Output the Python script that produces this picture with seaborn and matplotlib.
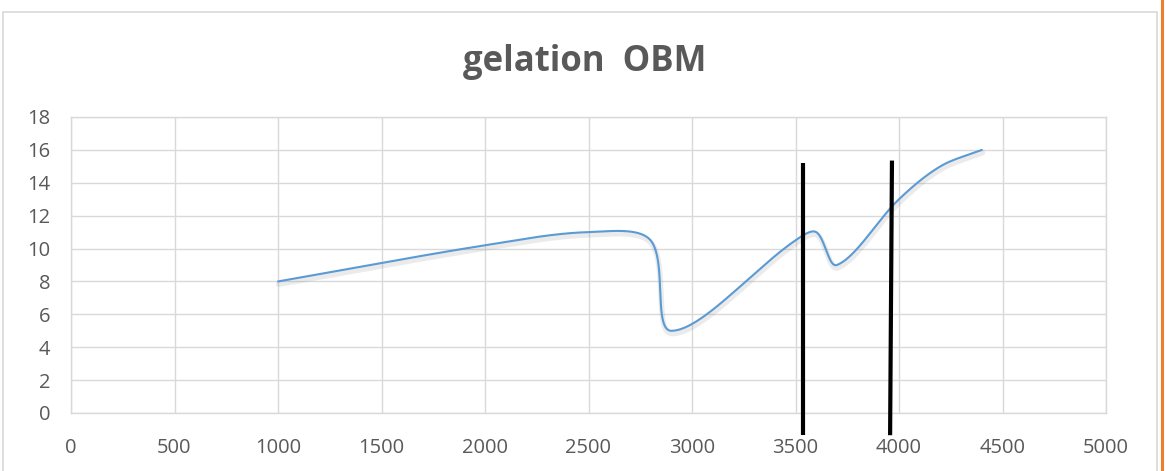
import numpy as np
import pandas as pd
import matplotlib
matplotlib.use("Agg")
import matplotlib.pyplot as plt
import matplotlib.patheffects as pe
from matplotlib.patches import Rectangle
from matplotlib.lines import Line2D
import seaborn as sns

# Measured points (depth vs. gel strength)
depth = [1000, 2000, 2500, 2800, 2900, 3500, 3600, 3700, 4000, 4200, 4400]
gel = [8.0, 10.2, 11.0, 10.5, 5.0, 10.5, 11.0, 9.0, 13.0, 15.0, 16.0]

# Hand-drawn marker lines
mark_x_top = [3538, 3966]
mark_x_bottom = [3538, 3957]
mark_y_top = [15.2, 15.35]
mark_y_bottom = [-1.35, -1.35]

x_ticks = [0, 500, 1000, 1500, 2000, 2500, 3000, 3500, 4000, 4500, 5000]
y_ticks = [0, 2, 4, 6, 8, 10, 12, 14, 16, 18]

W, H = 1166, 471
X_SCALE = (1106 - 71) / 5000.0   # pixels per depth unit
Y_SCALE = (413 - 117) / 18.0     # pixels per gel unit


def smooth_curve(xs, ys, n=120):
    """Bezier smoothing with tangents weighted by neighbouring segment lengths."""
    P = np.column_stack([xs, ys]).astype(float)
    S = P * np.array([X_SCALE, Y_SCALE])
    m = len(P)
    d = np.linalg.norm(np.diff(S, axis=0), axis=1)
    out = []
    for i in range(m - 1):
        p1, p2 = P[i], P[i + 1]
        if i > 0:
            t1 = P[i + 1] - P[i - 1]
            c1 = p1 + t1 * d[i] / (d[i - 1] + d[i]) / 3.0
        else:
            c1 = p1 + (p2 - p1) / 3.0
        if i + 2 < m:
            t2 = P[i + 2] - P[i]
            c2 = p2 - t2 * d[i] / (d[i] + d[i + 1]) / 3.0
        else:
            c2 = p2 - (p2 - p1) / 3.0
        t = np.linspace(0, 1, n, endpoint=(i == m - 2))[:, None]
        seg = ((1 - t) ** 3) * p1 + 3 * ((1 - t) ** 2) * t * c1 + 3 * (1 - t) * t ** 2 * c2 + t ** 3 * p2
        out.append(seg)
    out = np.vstack(out)
    return out[:, 0], out[:, 1]


sx, sy = smooth_curve(depth, gel)
curve = pd.DataFrame({"depth": sx, "gel": sy})

sns.set_theme(style="white")
plt.rcParams["font.family"] = ["Open Sans", "DejaVu Sans"]

fig = plt.figure(figsize=(W / 100, H / 100), dpi=100)
fig.patch.set_facecolor("white")

# Chart frame
fig.add_artist(Rectangle((3 / W, -0.05), (1157 - 3) / W, (H - 12) / H + 0.05,
                         transform=fig.transFigure, fill=False,
                         edgecolor="#d9d9d9", linewidth=1.2))
fig.add_artist(Line2D([1161.5 / W, 1161.5 / W], [0, 1], transform=fig.transFigure,
                      color="#ed7d31", linewidth=2.2))

ax = fig.add_axes([71 / W, (H - 413) / H, (1106 - 71) / W, (413 - 117) / H])

grid_c = "#d9d9d9"
sns.lineplot(data=curve, x="depth", y="gel", sort=False, estimator=None,
             color="#5b9bd5", linewidth=1.5, ax=ax,
             path_effects=[pe.SimpleLineShadow(offset=(0.5, -2.0), shadow_color="#7f7f7f",
                                               alpha=0.15, linewidth=4),
                           pe.Normal()])

for xt, xb, yt, yb in zip(mark_x_top, mark_x_bottom, mark_y_top, mark_y_bottom):
    ax.plot([xb, xt], [yb, yt], color="black", linewidth=3.0,
            solid_capstyle="butt", clip_on=False, zorder=5)

ax.set_xlim(0, 5000)
ax.set_ylim(0, 18)
ax.set_xticks(x_ticks)
ax.set_yticks(y_ticks)
ax.set_xticklabels([str(v) for v in x_ticks])
ax.set_yticklabels([str(v) for v in y_ticks])
ax.grid(True, color=grid_c, linewidth=1.0)
ax.set_axisbelow(True)
for s in ax.spines.values():
    s.set_color(grid_c)
    s.set_linewidth(1.0)
ax.tick_params(axis="both", length=0, labelsize=14.5, labelcolor="#595959")
ax.tick_params(axis="y", pad=15)
ax.tick_params(axis="x", pad=18)
ax.set_xlabel("")
ax.set_ylabel("")

fig.text(585 / W, (H - 62) / H, "gelation  OBM", ha="center", va="center",
         fontsize=25, fontweight="bold", color="#595959")

fig.savefig("out.png", dpi=100, facecolor="white")
